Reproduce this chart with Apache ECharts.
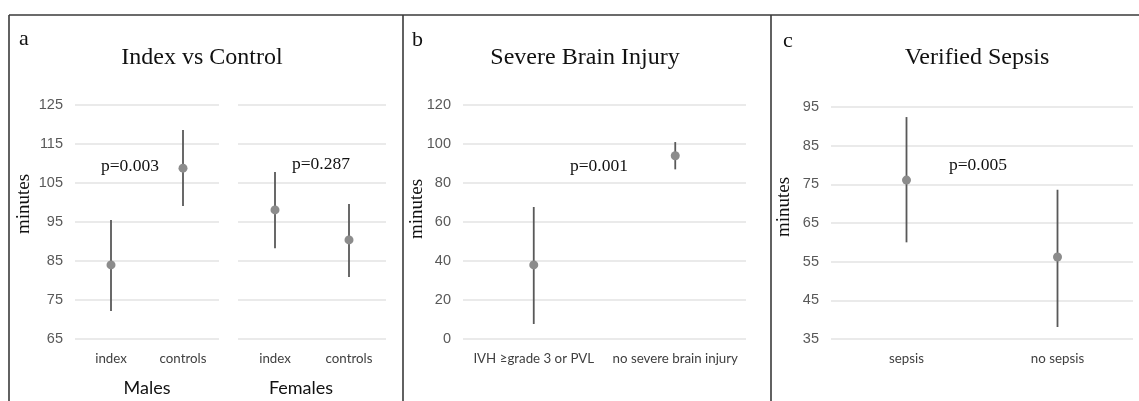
<!DOCTYPE html>
<html>
<head>
<meta charset="utf-8">
<script src="https://cdn.jsdelivr.net/npm/echarts@6/dist/echarts.min.js"></script>
<style>html,body{margin:0;padding:0;background:#fff}#c{width:1139px;height:401px}</style>
</head>
<body>
<div id="c"></div>
<script>
// ---- data ----
const catsA = ['index', 'controls'];
const maleMean = [84, 108.8];
const maleLow = [72.2, 99.1];
const maleHigh = [95.5, 118.6];
const femaleMean = [98.1, 90.4];
const femaleLow = [88.3, 80.9];
const femaleHigh = [107.8, 99.6];

const catsB = ['IVH \u2265grade 3 or PVL', 'no severe brain injury'];
const brainMean = [38, 94];
const brainLow = [7.7, 87];
const brainHigh = [67.7, 101];

const catsC = ['sepsis', 'no sepsis'];
const sepsisMean = [76.1, 56.2];
const sepsisLow = [60, 38.1];
const sepsisHigh = [92.4, 73.6];

const yTicksA = [65, 125, 10];
const yTicksB = [0, 120, 20];
const yTicksC = [35, 95, 10];

// ---- chart ----
const chart = echarts.init(document.getElementById('c'), null, {renderer: 'canvas'});
const serif = '"Liberation Serif","DejaVu Serif",serif';
const sans = '"Liberation Sans",Arial,sans-serif';
const catFont = 'Lato,"Open Sans",sans-serif';

function xAx(idx, cats) {
  return {
    type: 'category', gridIndex: idx, data: cats,
    axisLine: {show: false}, axisTick: {show: false},
    axisLabel: {interval: 0, color: '#404040', fontFamily: catFont, fontSize: 13.3, margin: 13}
  };
}
function yAx(idx, t, showLabels) {
  return {
    type: 'value', gridIndex: idx, min: t[0], max: t[1], interval: t[2],
    axisLine: {show: false}, axisTick: {show: false},
    axisLabel: {show: showLabels, color: '#595959', fontFamily: sans, fontSize: 14.5, margin: 12},
    splitLine: {lineStyle: {color: '#e3e3e3', width: 1.5}}
  };
}
function errSeries(idx, low, high) {
  return {
    type: 'custom', xAxisIndex: idx, yAxisIndex: idx, z: 2,
    data: low.map((l, i) => [i, l, high[i]]),
    renderItem: function (params, api) {
      const p1 = api.coord([api.value(0), api.value(1)]);
      const p2 = api.coord([api.value(0), api.value(2)]);
      return {type: 'line', shape: {x1: p1[0], y1: p1[1], x2: p2[0], y2: p2[1]},
              style: {stroke: '#595959', lineWidth: 1.8}};
    }
  };
}
function ptSeries(idx, mean) {
  return {
    type: 'scatter', xAxisIndex: idx, yAxisIndex: idx, z: 3,
    data: mean.map((m, i) => [i, m]), symbolSize: 9,
    itemStyle: {color: '#8c8c8c', opacity: 1}
  };
}
function txt(x, y, s, size, opts) {
  return Object.assign({type: 'text', x: x, y: y,
    style: Object.assign({text: s, fill: '#111', font: size + 'px ' + serif, textAlign: 'left', textVerticalAlign: 'middle'}, opts || {})});
}
function vtxt(x, y) {
  return {type: 'text', x: x, y: y, rotation: Math.PI / 2,
    style: {text: 'minutes', fill: '#111', font: '19px ' + serif, textAlign: 'center', textVerticalAlign: 'middle'}};
}

const option = {
  animation: false,
  backgroundColor: '#fff',
  grid: [
    {left: 75, top: 105, width: 144, height: 234},
    {left: 238, top: 105, width: 148, height: 234},
    {left: 463, top: 105, width: 283, height: 234},
    {left: 831, top: 107, width: 302, height: 232}
  ],
  xAxis: [xAx(0, catsA), xAx(1, catsA), xAx(2, catsB), xAx(3, catsC)],
  yAxis: [yAx(0, yTicksA, true), yAx(1, yTicksA, false), yAx(2, yTicksB, true), yAx(3, yTicksC, true)],
  series: [
    errSeries(0, maleLow, maleHigh), ptSeries(0, maleMean),
    errSeries(1, femaleLow, femaleHigh), ptSeries(1, femaleMean),
    errSeries(2, brainLow, brainHigh), ptSeries(2, brainMean),
    errSeries(3, sepsisLow, sepsisHigh), ptSeries(3, sepsisMean)
  ],
  graphic: [
    // frame lines
    {type: 'line', shape: {x1: 9, y1: 15, x2: 1139, y2: 15}, style: {stroke: '#3a3a3a', lineWidth: 1.6}},
    {type: 'line', shape: {x1: 9, y1: 15, x2: 9, y2: 401}, style: {stroke: '#3a3a3a', lineWidth: 1.6}},
    {type: 'line', shape: {x1: 403, y1: 15, x2: 403, y2: 401}, style: {stroke: '#3a3a3a', lineWidth: 1.6}},
    {type: 'line', shape: {x1: 771, y1: 15, x2: 771, y2: 401}, style: {stroke: '#3a3a3a', lineWidth: 1.6}},
    // letters
    txt(19, 39, 'a', 22),
    txt(412, 40, 'b', 22),
    txt(783, 41, 'c', 22),
    // titles
    txt(202, 58, 'Index vs Control', 24, {textAlign: 'center'}),
    txt(585, 58, 'Severe Brain Injury', 24, {textAlign: 'center'}),
    txt(977, 58, 'Verified Sepsis', 24, {textAlign: 'center'}),
    // p-values
    txt(130, 166, 'p=0.003', 17.5, {textAlign: 'center'}),
    txt(321, 164, 'p=0.287', 17.5, {textAlign: 'center'}),
    txt(599, 166, 'p=0.001', 17.5, {textAlign: 'center'}),
    txt(978, 165, 'p=0.005', 17.5, {textAlign: 'center'}),
    // y titles
    vtxt(24, 204),
    vtxt(417, 209),
    vtxt(784, 207),
    // group labels
    {type: 'text', x: 147, y: 388, style: {text: 'Males', fill: '#111', font: '18px ' + catFont, textAlign: 'center', textVerticalAlign: 'middle'}},
    {type: 'text', x: 301, y: 388, style: {text: 'Females', fill: '#111', font: '18px ' + catFont, textAlign: 'center', textVerticalAlign: 'middle'}}
  ]
};
chart.setOption(option);
</script>
</body>
</html>
